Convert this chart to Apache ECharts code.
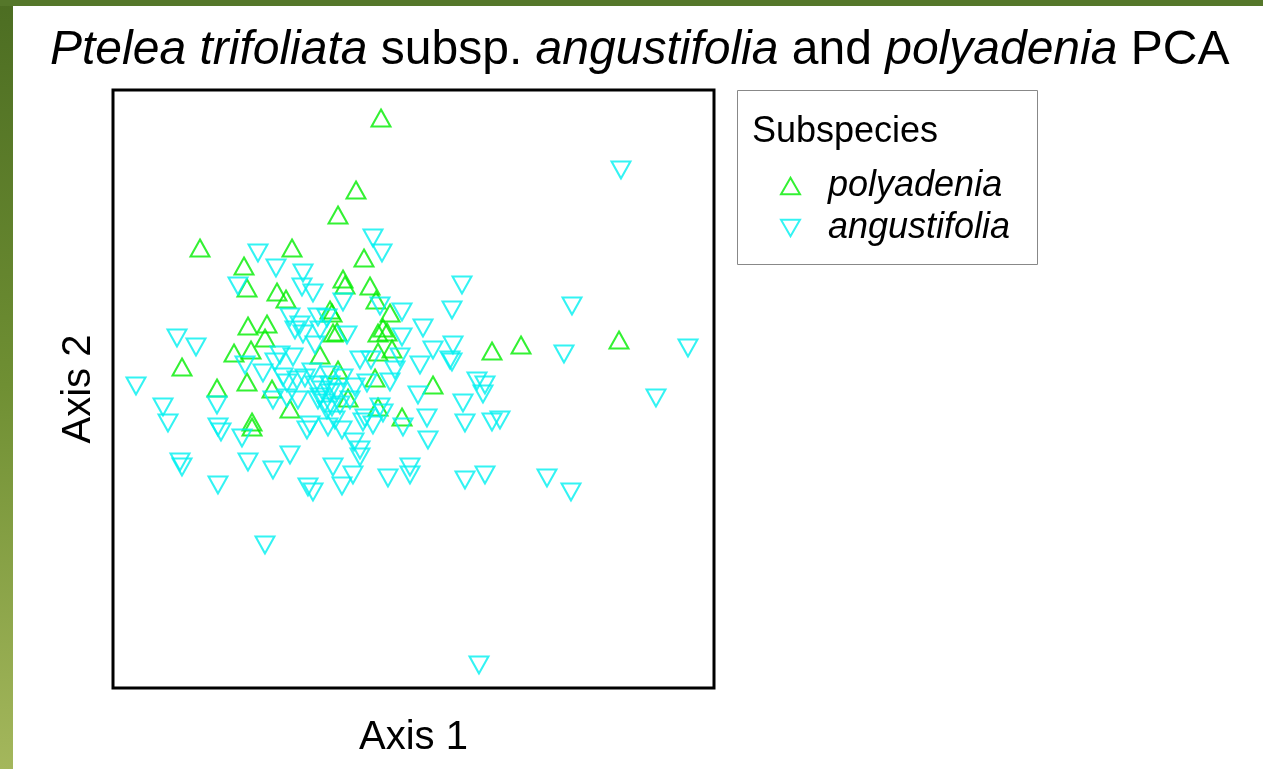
<!DOCTYPE html>
<html>
<head>
<meta charset="utf-8">
<title>Ptelea PCA</title>
<script src="https://cdn.jsdelivr.net/npm/echarts@6/dist/echarts.min.js"></script>
<style>
  body { margin: 0; background: #fff; }
  #chart { width: 1263px; height: 769px; }
</style>
</head>
<body>
<div id="chart"></div>
<script>
var fuente = "'Liberation Sans', Arial, sans-serif";

// puntajes PCA (unidades relativas, eje sin marcas)
var polyadeniaX = [-32, -57, -75, -213, -121, -169, -49, -166, -136, -127, -70, -68, -43, -37, -83, -23,
  -81, -165, -146, -148, -179, -162, -80, -76, -30, -26, -35, -35, -21, -93, -231, -196, -166, -141,
  -123, -161, -161, -75, -38, -65, -35, -11, 20, 79, 108, 206];
var polyadeniaY = [270, 198, 173, 140, 140, 122, 130, 100, 96, 89, 109, 103, 102, 88, 78, 75,
  75, 62, 64, 50, 35, 38, 55, 56, 60, 56, 55, 36, 39, 33, 21, 0, 6, -1,
  -21, -34, -39, 18, 10, -10, -19, -29, 3, 37, 43, 48];

var angustifoliaX = [208, -40, -31, -155, -137, -175, -110, -111, -100, 49, 159, 39, -70, -33, -11, -95,
  -123, -118, -110, -93, 10, -11, -66, -236, -217, 40, 20, 151, 275, -13, 7, 37, -53, -42, -133, -120,
  -168, -138, -150, -130, -116, -126, -83, -70, -58, -46, -23, -76, -93, -88, -83, -140, -115, -126,
  -277, -250, -245, -196, -195, -192, -171, -81, -78, -48, -40, -30, -33, 5, 14, 15, -10, -50, -71,
  -85, -106, -103, 64, 72, 70, 50, 52, 79, 87, 243, -233, -231, -165, -140, -123, -195, -148, -105,
  -100, -80, -60, -71, -53, -53, -25, -3, -3, 52, 72, 134, 158, 66, 39, -98, -91, -95, -86, -73, -63,
  -108, -101, -83, -86, -113, -98, -59, -18];
var angustifoliaY = [218, 150, 135, 135, 120, 102, 115, 101, 95, 103, 82, 78, 86, 82, 76, 71,
  71, 58, 54, 58, 60, 51, 53, 50, 41, 43, 38, 34, 40, 31, 23, 28, 28, 28, 33, 31,
  23, 26, 15, 11, 8, 5, 13, 10, 1, 5, 6, -4, -9, -15, -5, -12, -12, -10,
  2, -19, -35, -17, -39, -44, -50, -19, -32, -30, -37, -25, -19, -7, -30, -52, -39, -34, -42,
  -39, -42, -37, 7, 3, -6, -15, -35, -34, -32, -10, -74, -79, -74, -82, -67, -97, -157, -99,
  -104, -79, -87, -98, -62, -69, -90, -79, -87, -92, -87, -90, -104, -277, 26, 3, -2, -12, -22, -17, -12,
  10, 16, 3, 70, 63, 43, -54, 18];

var subespecies = ["polyadenia", "angustifolia"];

var verde = "#00ee00";
var cian = "#00f0f0";

function pares(xs, ys) {
  var out = [];
  for (var i = 0; i < xs.length; i++) {
    out.push([xs[i], ys[i]]);
  }
  return out;
}

var chart = echarts.init(document.getElementById("chart"));

chart.setOption({
  animation: false,
  backgroundColor: "#fff",
  title: {
    left: 50,
    top: 27,
    padding: 0,
    text: "{i|Ptelea trifoliata} subsp. {i|angustifolia} and {i|polyadenia} PCA",
    textStyle: {
      fontFamily: fuente, fontSize: 48, fontWeight: "normal", color: "#000",
      rich: { i: { fontFamily: fuente, fontSize: 48, fontStyle: "italic", color: "#000" } }
    }
  },
  grid: {
    left: 113, top: 90, width: 601, height: 598,
    show: true, borderColor: "#000", borderWidth: 3, backgroundColor: "transparent"
  },
  xAxis: {
    type: "value", min: -300, max: 301,
    name: "Axis 1", nameLocation: "middle", nameGap: 30,
    nameTextStyle: { fontFamily: fuente, fontSize: 40, color: "#000" },
    axisLine: { show: false }, axisTick: { show: false },
    axisLabel: { show: false }, splitLine: { show: false }
  },
  yAxis: {
    type: "value", min: -300, max: 298,
    name: "Axis 2", nameLocation: "middle", nameGap: 14,
    nameTextStyle: { fontFamily: fuente, fontSize: 40, color: "#000" },
    axisLine: { show: false }, axisTick: { show: false },
    axisLabel: { show: false }, splitLine: { show: false }
  },
  legend: {
    data: [
      { name: subespecies[0], icon: "path://M10,0L20,17.3L0,17.3Z",
        itemStyle: { color: "rgba(0,0,0,0)", borderColor: verde, borderWidth: 2 } },
      { name: subespecies[1], icon: "path://M0,0L20,0L10,17.3Z",
        itemStyle: { color: "rgba(0,0,0,0)", borderColor: cian, borderWidth: 2 } }
    ],
    orient: "vertical",
    left: 780, top: 168,
    padding: 0,
    itemWidth: 19, itemHeight: 17, itemGap: 6,
    selectedMode: false,
    textStyle: {
      fontFamily: fuente, fontSize: 36, fontStyle: "italic", color: "#000",
      padding: [0, 0, 0, 23]
    }
  },
  graphic: [
    {
      type: "rect", z: -10, silent: true,
      shape: { x: 0, y: 0, width: 13, height: 769 },
      style: { fill: new echarts.graphic.LinearGradient(0, 0, 0, 1, [
        { offset: 0, color: "#4c6d22" }, { offset: 0.5, color: "#6f8f33" }, { offset: 1, color: "#a4b75c" }
      ]) }
    },
    {
      type: "rect", z: -10, silent: true,
      shape: { x: 0, y: 0, width: 1263, height: 6 },
      style: { fill: "#55772a" }
    },
    {
      type: "rect", silent: true,
      shape: { x: 737.5, y: 90.5, width: 300, height: 174 },
      style: { fill: "none", stroke: "#888", lineWidth: 1 }
    },
    {
      type: "text", silent: true, left: 752, top: 114,
      style: { text: "Subspecies", font: "36px " + fuente, fill: "#000" }
    }
  ],
  series: [
    {
      name: subespecies[0], type: "scatter",
      data: pares(polyadeniaX, polyadeniaY),
      symbol: "triangle", symbolSize: [19, 17],
      itemStyle: { color: "rgba(0,0,0,0)", borderColor: verde, borderWidth: 2 },
      emphasis: { disabled: true }
    },
    {
      name: subespecies[1], type: "scatter",
      data: pares(angustifoliaX, angustifoliaY),
      symbol: "triangle", symbolRotate: 180, symbolSize: [19, 17],
      itemStyle: { color: "rgba(0,0,0,0)", borderColor: cian, borderWidth: 2 },
      emphasis: { disabled: true }
    }
  ]
});
</script>
</body>
</html>
